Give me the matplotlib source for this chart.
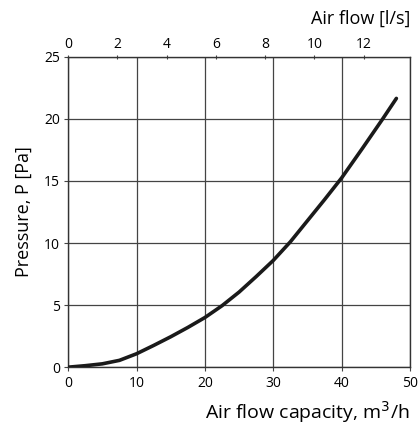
import numpy as np
import matplotlib.pyplot as plt

plt.rcParams['font.family'] = ['Open Sans', 'DejaVu Sans']

# curve (m3/h, Pa)
flow_m3h = [0, 2.5, 5, 7.5, 10, 12.5, 15, 17.5, 20, 22.5, 25, 27.5, 30, 32.5,
            35, 37.5, 40, 43, 46, 48]
pressure = [0, 0.12, 0.27, 0.55, 1.08, 1.75, 2.45, 3.2, 4.0, 4.95, 6.05, 7.3, 8.6, 10.1,
            11.8, 13.5, 15.25, 17.6, 20.0, 21.65]

x_ticks = [0, 10, 20, 30, 40, 50]
y_ticks = [0, 5, 10, 15, 20, 25]
top_ticks = [0, 2, 4, 6, 8, 10, 12]

fig = plt.figure(figsize=(4.18, 4.24), dpi=100)
ax = fig.add_axes([0.163, 0.134, 0.818, 0.732])

ax.plot(flow_m3h, pressure, color='#1a1a1a', lw=2.6, solid_capstyle='round',
        solid_joinstyle='round', zorder=3)

ax.set_xlim(0, 50)
ax.set_ylim(0, 25)
ax.set_xticks(x_ticks)
ax.set_yticks(y_ticks)
ax.grid(True, color='#444444', lw=0.9)
ax.tick_params(labelsize=10, length=3, color='#444444', pad=3)
for s in ax.spines.values():
    s.set_color('#333333')
    s.set_linewidth(1.0)

ax.set_ylabel('Pressure, P [Pa]', fontsize=13, labelpad=8)
ax.set_xlabel('Air flow capacity, m$^3$/h', fontsize=14, loc='right', labelpad=6)

top = ax.secondary_xaxis('top', functions=(lambda v: v / 3.6, lambda v: v * 3.6))
top.set_xticks(top_ticks)
top.tick_params(labelsize=10, length=3, direction='inout', color='#444444', pad=2)
top.spines['top'].set_visible(False)
fig.text(0.981, 0.935, 'Air flow [l/s]', fontsize=13, ha='right', va='bottom')

fig.savefig('out.png', dpi=100)
